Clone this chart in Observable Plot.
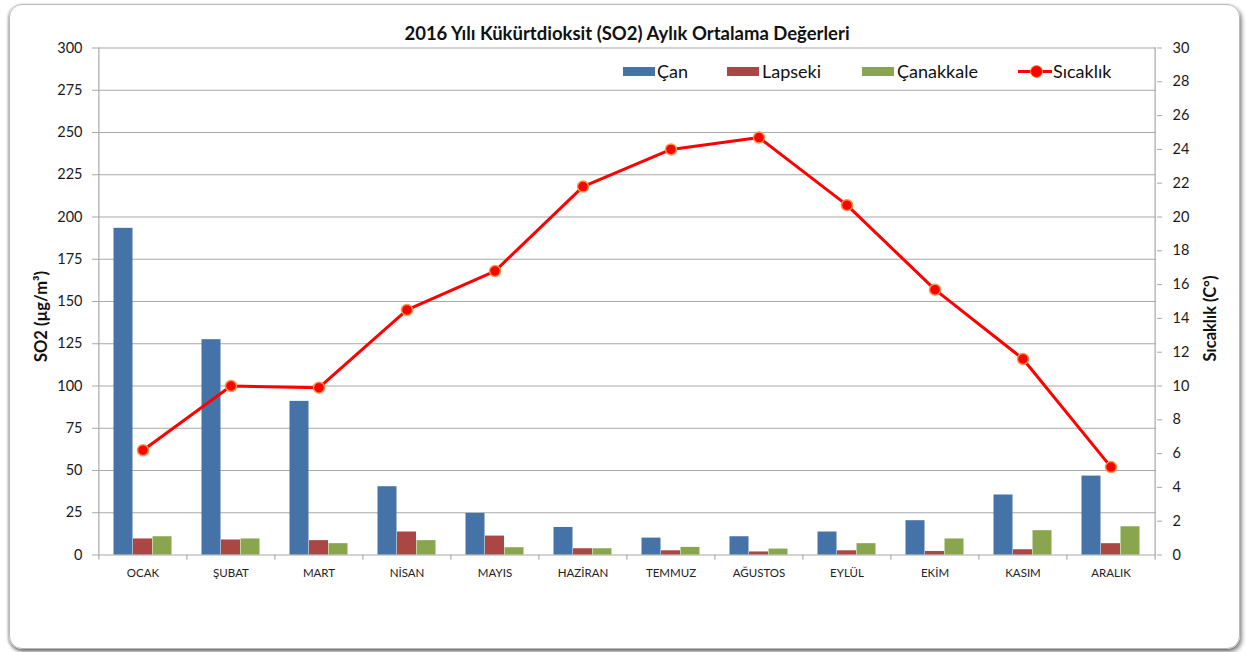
<!DOCTYPE html>
<html>
<head>
<meta charset="utf-8">
<script src="https://cdn.jsdelivr.net/npm/d3@7"></script>
<script src="https://cdn.jsdelivr.net/npm/@observablehq/plot@0.6"></script>
<style>
  html, body { margin: 0; padding: 0; background: #fff; overflow: hidden; }
  #wrap { position: relative; width: 1247px; height: 652px; font-family: Lato, "Noto Sans", sans-serif; }
  #chart { position: absolute; left: 0; top: 0; }
  #frame { position: absolute; left: 9px; top: 4px; width: 1229px; height: 643px; border: 1px solid #b8b8b8;
           border-radius: 13px; box-shadow: 2px 3px 4px rgba(0,0,0,0.45), -1px 1px 3px rgba(0,0,0,0.3); pointer-events: none; }
  .sw { position: absolute; height: 9px; width: 32px; }
  .lt { position: absolute; font-size: 18px; line-height: 18px; color: #111; white-space: nowrap; }
</style>
</head>
<body>
<div id="wrap">
  <div id="chart"></div>
  <div id="legend"></div>
  <div id="frame"></div>
</div>
<script>
const months = ["OCAK","ŞUBAT","MART","NİSAN","MAYIS","HAZİRAN","TEMMUZ","AĞUSTOS","EYLÜL","EKİM","KASIM","ARALIK"];
const can       = [193.3, 127.4, 90.9, 40.4, 24.6, 16.3, 10.0, 10.8, 13.6, 20.3, 35.5, 46.7];
const lapseki   = [9.5, 8.9, 8.5, 13.6, 11.2, 3.7, 2.5, 1.8, 2.5, 2.1, 3.1, 6.7];
const canakkale = [10.8, 9.5, 6.7, 8.5, 4.3, 3.7, 4.5, 3.5, 6.7, 9.5, 14.4, 16.7];
const sicaklik  = [6.2, 10.0, 9.9, 14.5, 16.8, 21.8, 24.0, 24.7, 20.7, 15.7, 11.6, 5.2];
const seriesNames = ["Çan", "Lapseki", "Çanakkale", "Sıcaklık"];
const leftTicks = d3.range(0, 301, 25);      // SO2 ticks
const rightTicks = d3.range(0, 31, 2);       // temperature ticks
const tempFactor = 10;                       // 0–30 °C shown on the 0–300 scale

const colors = ["#4572A7", "#AA4643", "#89A54E", "#FF0000"];

const data = months.map((m, i) => ({month: m, can: can[i], lapseki: lapseki[i], canakkale: canakkale[i], temp: sicaklik[i]}));

const W = 1247, H = 652, mL = 97, mR = 91, mT = 47.5, mB = 97.5;
const step = (W - mL - mR) / months.length;
const pIn = 0.779;
const bw = step * (1 - pIn);
const grid = "#a8a8a8";

const chart = Plot.plot({
  width: W, height: H,
  marginLeft: mL, marginRight: mR, marginTop: mT, marginBottom: mB,
  style: {background: "transparent", fontFamily: "Lato, 'Noto Sans', sans-serif", overflow: "visible"},
  x: {domain: months, paddingInner: pIn, paddingOuter: pIn / 2, axis: null},
  y: {domain: [0, 300], axis: null},
  marks: [
    Plot.ruleY(leftTicks, {stroke: grid, strokeWidth: 1.2}),
    // left / right axis lines
    Plot.ruleX([months[0]], {y1: 0, y2: 300, dx: -step / 2, stroke: grid, strokeWidth: 1.2}),
    Plot.ruleX([months[months.length - 1]], {y1: 0, y2: 300, dx: step / 2, stroke: grid, strokeWidth: 1.2}),
    // x tick marks at category boundaries
    Plot.ruleX(months, {x: d => d, y1: 0, y2: -3, dx: -step / 2, stroke: grid, strokeWidth: 1.2}),
    Plot.ruleX([months[months.length - 1]], {y1: 0, y2: -3, dx: step / 2, stroke: grid, strokeWidth: 1.2}),
    Plot.axisY({anchor: "left", ticks: leftTicks, tickSize: 5, tickPadding: 10, fontSize: 14.5, stroke: grid, color: "#1a1a1a", label: null}),
    Plot.axisY({anchor: "right", ticks: rightTicks.map(t => t * tempFactor), tickFormat: d => d / tempFactor, tickSize: 5, tickPadding: 11, fontSize: 14.5, stroke: grid, color: "#1a1a1a", label: null}),
    Plot.barY(data, {x: "month", y: "can", fill: colors[0], dx: -bw}),
    Plot.barY(data, {x: "month", y: "lapseki", fill: colors[1]}),
    Plot.barY(data, {x: "month", y: "canakkale", fill: colors[2], dx: bw}),
    Plot.line(data, {x: "month", y: d => d.temp * tempFactor, stroke: colors[3], strokeWidth: 3}),
    Plot.dot(data, {x: "month", y: d => d.temp * tempFactor, r: 5.5, fill: colors[3], stroke: "#F79646", strokeWidth: 1.5}),
    Plot.text(data, {x: "month", y: 0, text: "month", dy: 18, fontSize: 11.5, fill: "#222", lineAnchor: "middle"}),
    Plot.text(["SO2 (µg/m³)"], {frameAnchor: "left", textAnchor: "middle", lineAnchor: "middle", rotate: -90, dx: -56, dy: 15, fontSize: 16.5, fontWeight: "bold", fill: "#111"}),
    Plot.text(["Sıcaklık (C°)"], {frameAnchor: "right", textAnchor: "middle", lineAnchor: "middle", rotate: -90, dx: 54, dy: 17, fontSize: 16.5, fontWeight: "bold", fill: "#111"}),
    Plot.text(["2016 Yılı Kükürtdioksit (SO2) Aylık Ortalama Değerleri"], {frameAnchor: "top", dy: -21, fontSize: 18.5, fontWeight: "bold", fill: "#111"})
  ]
});
document.getElementById("chart").appendChild(chart);

// legend
const leg = document.getElementById("legend");
const items = [
  {sw: 623, tx: 657},
  {sw: 727, tx: 762},
  {sw: 862, tx: 897},
  {sw: 1018, tx: 1053}
];
items.forEach((it, i) => {
  if (i < 3) {
    const s = document.createElement("div");
    s.className = "sw"; s.style.left = it.sw + "px"; s.style.top = "67px"; s.style.background = colors[i];
    leg.appendChild(s);
  } else {
    const l = document.createElement("div");
    l.style.cssText = `position:absolute;left:${it.sw}px;top:70px;width:34px;height:3px;background:${colors[3]}`;
    leg.appendChild(l);
    const d = document.createElement("div");
    d.style.cssText = `position:absolute;left:${it.sw + 11.5}px;top:65px;width:11px;height:11px;border-radius:50%;background:${colors[3]};border:1px solid #F79646`;
    leg.appendChild(d);
  }
  const t = document.createElement("div");
  t.className = "lt"; t.style.left = it.tx + "px"; t.style.top = "62px"; t.textContent = seriesNames[i];
  leg.appendChild(t);
});
</script>
</body>
</html>
